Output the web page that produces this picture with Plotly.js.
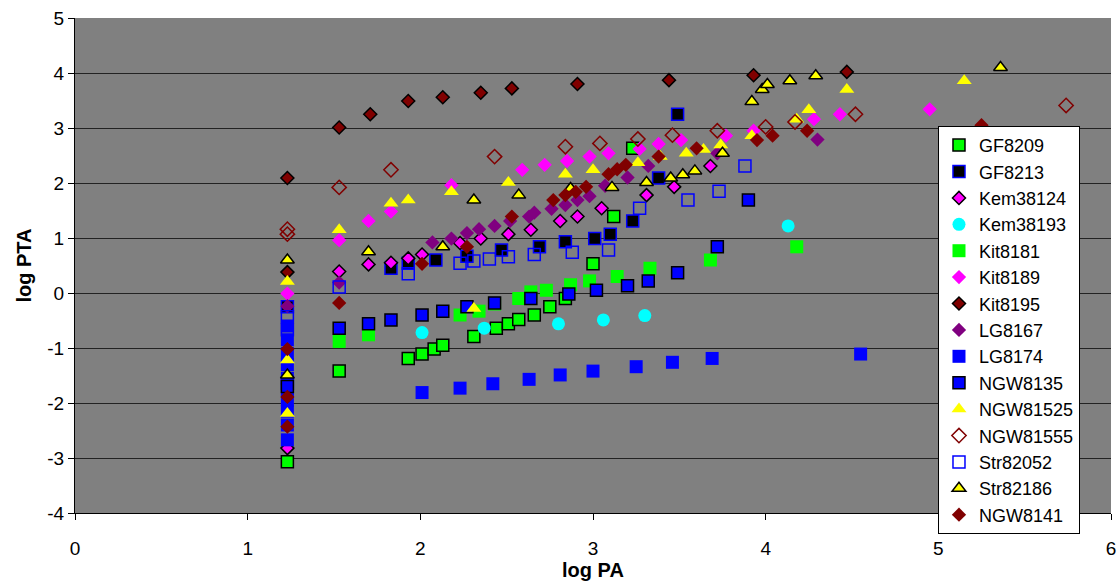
<!DOCTYPE html>
<html>
<head>
<meta charset="utf-8">
<script src="https://cdn.plot.ly/plotly-3.0.1.min.js"></script>
<style>html,body{margin:0;padding:0;background:#fff;}#chart{width:1120px;height:582px;}</style>
</head>
<body>
<div id="chart"></div>
<script>
// ---- data ----
const seriesNames = ['GF8209','GF8213','Kem38124','Kem38193','Kit8181','Kit8189','Kit8195','LG8167','LG8174','NGW8135','NGW81525','NGW81555','Str82052','Str82186','NGW8141'];

const gf8209_x = [1.23, 1.53, 1.93, 2.01, 2.08, 2.13, 2.31, 2.44, 2.51, 2.57, 2.66, 2.75, 2.84, 3.00, 3.12, 3.23];
const gf8209_y = [-3.07, -1.42, -1.19, -1.11, -1.02, -0.95, -0.79, -0.64, -0.56, -0.48, -0.40, -0.25, -0.10, 0.53, 1.39, 2.63];

const gf8213_x = [1.23, 1.23, 1.83, 1.93, 2.09, 2.27, 2.47, 2.69, 2.84, 3.01, 3.10, 3.23, 3.38, 3.49];
const gf8213_y = [-0.25, -1.64, 0.45, 0.54, 0.60, 0.67, 0.78, 0.84, 0.93, 0.99, 1.07, 1.31, 2.09, 3.25];

const kem38124_x = [1.23, 1.53, 1.70, 1.83, 1.93, 2.01, 2.23, 2.35, 2.51, 2.64, 2.81, 2.91, 3.05, 3.31, 3.47, 3.68];
const kem38124_y = [-2.82, 0.39, 0.52, 0.55, 0.63, 0.70, 0.91, 0.99, 1.07, 1.15, 1.31, 1.39, 1.54, 1.78, 1.93, 2.31];

const kem38193_x = [2.01, 2.37, 2.80, 3.06, 3.30, 4.13];
const kem38193_y = [-0.72, -0.64, -0.56, -0.49, -0.41, 1.22];

const kit8181_x = [1.53, 1.70, 2.23, 2.34, 2.43, 2.57, 2.64, 2.73, 2.87, 2.98, 3.14, 3.33, 3.68, 4.18];
const kit8181_y = [-0.88, -0.76, -0.40, -0.33, -0.20, -0.10, 0.02, 0.05, 0.15, 0.22, 0.30, 0.45, 0.60, 0.84];

const kit8189_x = [1.23, 1.53, 1.70, 1.83, 2.18, 2.59, 2.72, 2.85, 2.98, 3.09, 3.27, 3.38, 3.51, 3.77, 3.93, 4.28, 4.43, 4.95];
const kit8189_y = [-0.01, 0.96, 1.31, 1.48, 1.96, 2.24, 2.33, 2.40, 2.48, 2.54, 2.62, 2.71, 2.78, 2.86, 2.95, 3.16, 3.25, 3.34];

const kit8195_x = [1.23, 1.23, 1.53, 1.71, 1.93, 2.13, 2.35, 2.53, 2.91, 3.44, 3.93, 4.47];
const kit8195_y = [2.09, 0.38, 3.01, 3.25, 3.49, 3.56, 3.64, 3.72, 3.80, 3.87, 3.96, 4.02];

const lg8167_x = [1.23, 1.53, 2.07, 2.18, 2.27, 2.34, 2.43, 2.52, 2.63, 2.66, 2.76, 2.84, 2.91, 2.98, 3.07, 3.20, 3.32, 3.72, 4.30];
const lg8167_y = [-0.24, 0.19, 0.92, 0.99, 1.09, 1.16, 1.22, 1.31, 1.39, 1.46, 1.53, 1.60, 1.69, 1.76, 1.95, 2.10, 2.31, 2.54, 2.79];

const lg8174_x = [1.23, 1.23, 1.23, 1.23, 1.23, 1.23, 1.23, 1.23, 1.23, 1.23, 2.01, 2.23, 2.42, 2.63, 2.81, 3.00, 3.25, 3.46, 3.69, 4.55];
const lg8174_y = [-0.60, -0.85, -1.10, -1.30, -1.55, -1.75, -1.95, -2.15, -2.40, -2.67, -1.81, -1.73, -1.65, -1.57, -1.49, -1.42, -1.34, -1.26, -1.19, -1.11];

const ngw8135_x = [1.23, 1.53, 1.70, 1.83, 2.01, 2.13, 2.27, 2.43, 2.64, 2.86, 3.02, 3.20, 3.32, 3.49, 3.72, 3.90];
const ngw8135_y = [-1.70, -0.64, -0.56, -0.49, -0.40, -0.33, -0.25, -0.18, -0.10, -0.02, 0.05, 0.13, 0.22, 0.37, 0.84, 1.69];

const ngw81525_x = [1.23, 1.23, 1.23, 1.53, 1.83, 1.93, 2.18, 2.31, 2.51, 2.84, 3.00, 3.26, 3.39, 3.54, 3.64, 3.74, 3.92, 4.18, 4.25, 4.47, 5.15];
const ngw81525_y = [0.21, -1.22, -2.19, 1.15, 1.63, 1.69, 1.84, -0.28, 2.01, 2.16, 2.24, 2.37, 2.48, 2.54, 2.61, 2.69, 2.86, 3.16, 3.33, 3.70, 3.86];

const ngw81555_x = [1.23, 1.23, 1.53, 1.83, 2.43, 2.84, 3.04, 3.26, 3.46, 3.72, 4.00, 4.17, 4.52, 5.74];
const ngw81555_y = [1.16, 1.07, 1.92, 2.24, 2.48, 2.66, 2.72, 2.80, 2.87, 2.95, 3.02, 3.11, 3.25, 3.41];

const str82052_x = [1.23, 1.23, 1.53, 1.93, 2.23, 2.31, 2.40, 2.51, 2.66, 2.88, 3.09, 3.27, 3.55, 3.73, 3.88];
const str82052_y = [-0.43, -0.67, 0.11, 0.35, 0.54, 0.58, 0.62, 0.66, 0.70, 0.74, 0.78, 1.54, 1.69, 1.85, 2.31];

const str82186_x = [1.23, 1.23, 1.70, 2.13, 2.31, 2.57, 2.87, 3.11, 3.31, 3.45, 3.52, 3.59, 3.75, 3.92, 3.98, 4.01, 4.14, 4.29, 5.36];
const str82186_y = [0.60, -1.49, 0.75, 0.84, 1.69, 1.78, 1.90, 1.92, 2.01, 2.09, 2.15, 2.22, 2.54, 3.48, 3.70, 3.79, 3.86, 3.95, 4.10];

const ngw8141_x = [1.23, 1.23, 1.23, 1.53, 2.01, 2.27, 2.53, 2.77, 2.84, 2.90, 2.96, 3.09, 3.14, 3.19, 3.38, 3.60, 3.95, 4.04, 4.24, 5.25];
const ngw8141_y = [-1.02, -1.89, -2.43, -0.18, 0.53, 0.84, 1.39, 1.69, 1.78, 1.84, 1.93, 2.16, 2.25, 2.33, 2.48, 2.63, 2.78, 2.86, 2.95, 3.05];

const xTicks = [0, 1, 2, 3, 4, 5, 6];
const yTicks = [-4, -3, -2, -1, 0, 1, 2, 3, 4, 5];

// ---- styles ----
const styles = [
  {symbol:'square', size:12, color:'#00FF00', line:{color:'#000000', width:1.5}},
  {symbol:'square', size:12, color:'#000000', line:{color:'#0000FF', width:1.5}},
  {symbol:'diamond', size:10, color:'#FF00FF', line:{color:'#000000', width:1.5}},
  {symbol:'circle', size:13, color:'#00FFFF', line:{width:0}},
  {symbol:'square', size:13, color:'#00FF00', line:{width:0}},
  {symbol:'diamond', size:11, color:'#FF00FF', line:{width:0}},
  {symbol:'diamond', size:10, color:'#800000', line:{color:'#000000', width:1.5}},
  {symbol:'diamond', size:11, color:'#800080', line:{width:0}},
  {symbol:'square', size:13, color:'#0000FF', line:{width:0}},
  {symbol:'square', size:12, color:'#0000FF', line:{color:'#000000', width:1.5}},
  {symbol:'triangle-up', size:13, color:'#FFFF00', line:{width:0}},
  {symbol:'diamond-open', size:11, color:'#800000', line:{color:'#800000', width:1.5}},
  {symbol:'square-open', size:12, color:'#0000FF', line:{color:'#0000FF', width:1.5}},
  {symbol:'triangle-up', size:12, color:'#FFFF00', line:{color:'#000000', width:1.5}},
  {symbol:'diamond', size:11, color:'#800000', line:{width:0}}
];

const xs = [gf8209_x, gf8213_x, kem38124_x, kem38193_x, kit8181_x, kit8189_x, kit8195_x, lg8167_x, lg8174_x, ngw8135_x, ngw81525_x, ngw81555_x, str82052_x, str82186_x, ngw8141_x];
const ys = [gf8209_y, gf8213_y, kem38124_y, kem38193_y, kit8181_y, kit8189_y, kit8195_y, lg8167_y, lg8174_y, ngw8135_y, ngw81525_y, ngw81555_y, str82052_y, str82186_y, ngw8141_y];

const traces = seriesNames.map((n, i) => ({
  type: 'scatter', mode: 'markers', name: n,
  x: xs[i], y: ys[i],
  marker: styles[i], hoverinfo: 'skip'
}));

const layout = {
  width: 1120, height: 582,
  margin: {l: 75, r: 9, t: 18, b: 69},
  paper_bgcolor: '#FFFFFF', plot_bgcolor: '#808080',
  font: {family: '"Liberation Sans", Arial, sans-serif', size: 19, color: '#000'},
  xaxis: {
    range: [0, 6], tickvals: xTicks, ticktext: xTicks.map(String),
    showgrid: false, zeroline: false, showline: true, linecolor: '#000', linewidth: 1,
    ticks: 'outside', ticklen: 6, tickcolor: '#000', ticklabelstandoff: 12,
    title: {text: '<b>log PA</b>', font: {size: 20}, standoff: 5}
  },
  yaxis: {
    range: [-4, 5], tickvals: yTicks, ticktext: yTicks.map(String),
    showgrid: true, gridcolor: '#222', gridwidth: 1, zeroline: false,
    showline: true, linecolor: '#000', linewidth: 1,
    ticks: 'outside', ticklen: 6, tickcolor: '#000',
    title: {text: '<b>log PTA</b>', font: {size: 20}, standoff: 10}
  },
  legend: {
    x: 0.833, y: 0.782, xanchor: 'left', yanchor: 'top',
    bgcolor: '#FFFFFF', bordercolor: '#000', borderwidth: 1,
    font: {size: 18}, tracegroupgap: 0, entrywidth: 120, entrywidthmode: 'pixels'
  },
  showlegend: true
};

Plotly.newPlot('chart', traces, layout, {displayModeBar: false, staticPlot: true});
</script>
</body>
</html>
